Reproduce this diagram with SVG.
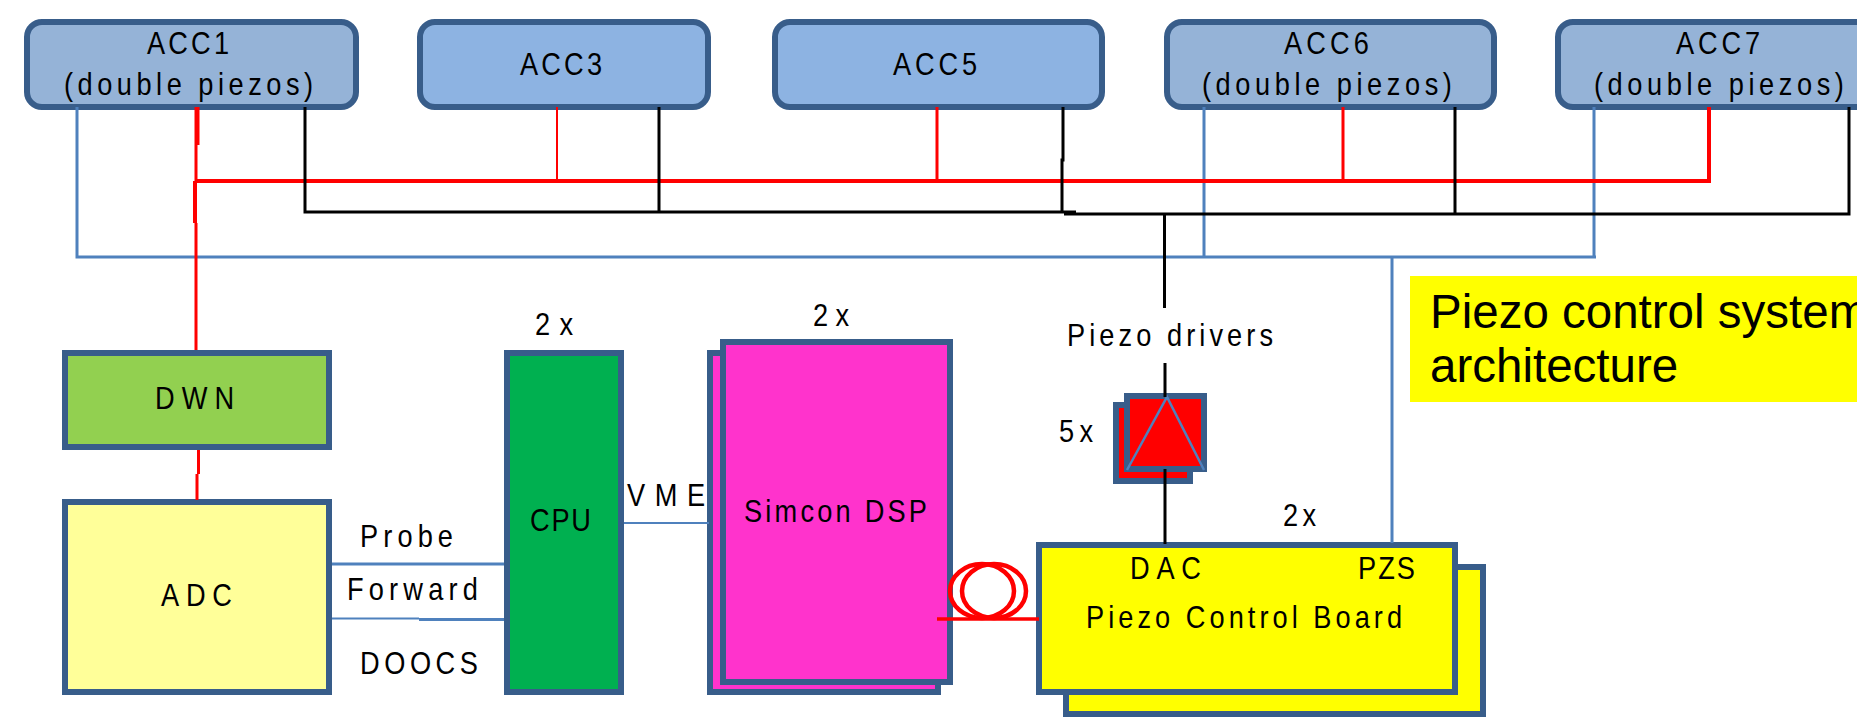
<svg xmlns="http://www.w3.org/2000/svg" width="1857" height="719" viewBox="0 0 1857 719">
<style>
text{font-family:"Liberation Sans",Arial,sans-serif;font-size:32px;fill:#000}
.big{font-size:47.500px}
.n{stroke:#385d8a;stroke-width:6}
.acc-a{fill:#95b3d7}
.acc-b{fill:#8db3e2}
.c{fill:none;stroke-linejoin:miter}
.r{stroke:#f00;stroke-width:3}
.k{stroke:#000;stroke-width:3}
.b{stroke:#4f81bd;stroke-width:3}
</style>
<rect width="1857" height="719" fill="#fff"/>
<g id="acc1"><rect class="n acc-a" x="27" y="22" width="329" height="85" rx="15"/><text transform="matrix(.85 0 0 1 147 54)" textLength="96.500" lengthAdjust="spacing">ACC1</text><text transform="matrix(.85 0 0 1 64 95)" textLength="293" lengthAdjust="spacing">(double piezos)</text></g>
<g id="acc3"><rect class="n acc-b" x="420" y="22" width="288" height="85" rx="15"/><text transform="matrix(.85 0 0 1 520 75)" textLength="96.500" lengthAdjust="spacing">ACC3</text></g>
<g id="acc5"><rect class="n acc-b" x="775" y="22" width="327" height="85" rx="15"/><text transform="matrix(.85 0 0 1 893 75)" textLength="99" lengthAdjust="spacing">ACC5</text></g>
<g id="acc6"><rect class="n acc-a" x="1167" y="22" width="327" height="85" rx="15"/><text transform="matrix(.85 0 0 1 1284 54)" textLength="100" lengthAdjust="spacing">ACC6</text><text transform="matrix(.85 0 0 1 1202 95)" textLength="294" lengthAdjust="spacing">(double piezos)</text></g>
<g id="acc7"><rect class="n acc-a" x="1558" y="22" width="327" height="85" rx="15"/><text transform="matrix(.85 0 0 1 1676 54)" textLength="99" lengthAdjust="spacing">ACC7</text><text transform="matrix(.85 0 0 1 1594 95)" textLength="294" lengthAdjust="spacing">(double piezos)</text></g>
<g id="dwn"><rect class="n" fill="#92d050" x="65" y="353" width="264" height="94"/><text transform="matrix(.85 0 0 1 155 409)" textLength="93" lengthAdjust="spacing">DWN</text></g>
<g id="adc"><rect class="n" fill="#ffff99" x="65" y="502" width="264" height="190"/><text transform="matrix(.85 0 0 1 161 606)" textLength="83.500" lengthAdjust="spacing">ADC</text></g>
<g id="cpu"><text transform="matrix(.85 0 0 1 535 335)" textLength="44.700" lengthAdjust="spacing">2x</text><rect class="n" fill="#00b050" x="507" y="353" width="114" height="339"/><text transform="matrix(.85 0 0 1 530 531)" textLength="71.800" lengthAdjust="spacing">CPU</text></g>
<g id="simcon"><text transform="matrix(.85 0 0 1 813 326)" textLength="42.400" lengthAdjust="spacing">2x</text><rect class="n" fill="#ff33cc" x="710" y="353" width="228" height="339"/><rect class="n" fill="#ff33cc" x="723" y="342" width="227" height="340"/><text transform="matrix(.85 0 0 1 744 522)" textLength="215.300" lengthAdjust="spacing">Simcon DSP</text></g>
<g id="piezo-driver"><text transform="matrix(.85 0 0 1 1067 346)" textLength="242.400" lengthAdjust="spacing">Piezo drivers</text><text transform="matrix(.85 0 0 1 1059 442)" textLength="40" lengthAdjust="spacing">5x</text><rect class="n" fill="#f00" x="1116" y="405" width="74" height="76"/><rect class="n" fill="#f00" x="1127" y="396" width="77" height="73"/><polyline points="1127,470 1167,397 1204,470" fill="none" stroke="#4f81bd" stroke-width="2.500"/></g>
<g id="piezo-board"><text transform="matrix(.85 0 0 1 1283 526)" textLength="38.800" lengthAdjust="spacing">2x</text><rect class="n" fill="#ff0" x="1066" y="567" width="417" height="147"/><rect class="n" fill="#ff0" x="1039" y="545" width="416" height="147"/><text transform="matrix(.85 0 0 1 1130 579)" textLength="83.500" lengthAdjust="spacing">DAC</text><text transform="matrix(.85 0 0 1 1358 579)" textLength="67" lengthAdjust="spacing">PZS</text><text transform="matrix(.85 0 0 1 1086 628)" textLength="371.800" lengthAdjust="spacing">Piezo Control Board</text></g>
<g id="note"><rect fill="#ff0" x="1410" y="276" width="447" height="126"/><text class="big" x="1430" y="328">Piezo control system</text><text class="big" x="1430" y="382">architecture</text></g>
<g id="connectors">
<path class="c b" d="M77 107V257H1596M1204 107V257M1594 107V257M1392 257V543"/>
<path class="c r" style="stroke-width:5" d="M197 107V145"/>
<path class="c r" d="M196 145V181M196 223V350M198.500 450V474M197 474V500"/>
<path class="c r" style="stroke-width:4" d="M195 181V223M195 181H1709V107"/>
<path class="c r" style="stroke-width:2" d="M557 107V181"/>
<path class="c r" d="M937 107V181M1343 107V181"/>
<path class="c k" d="M305 107V212H1076M659 107V212M1063 107V160H1062V212M1064 214H1849V107M1455 107V214M1164.500 214V308M1165 363V397M1165 469V544"/>
<path class="c b" d="M332 564H504"/>
<path class="c b" style="stroke-width:2" d="M332 618.500H419"/>
<path class="c b" d="M419 619.500H504"/>
<path class="c b" style="stroke-width:2" d="M624 523H709"/>
<g id="fibre" class="c r"><ellipse cx="982" cy="591" rx="32" ry="27" style="stroke-width:4.500"/><ellipse cx="994" cy="591" rx="32" ry="27" style="stroke-width:4.500"/><path d="M937 619H1039" style="stroke-width:3.500"/></g>
<text transform="matrix(.85 0 0 1 360 547)" textLength="109.400" lengthAdjust="spacing">Probe</text>
<text transform="matrix(.85 0 0 1 347 600)" textLength="154" lengthAdjust="spacing">Forward</text>
<text transform="matrix(.85 0 0 1 360 674)" textLength="138.800" lengthAdjust="spacing">DOOCS</text>
<text transform="matrix(.85 0 0 1 627 506)" textLength="91.800" lengthAdjust="spacing">VME</text>
</g>
</svg>
